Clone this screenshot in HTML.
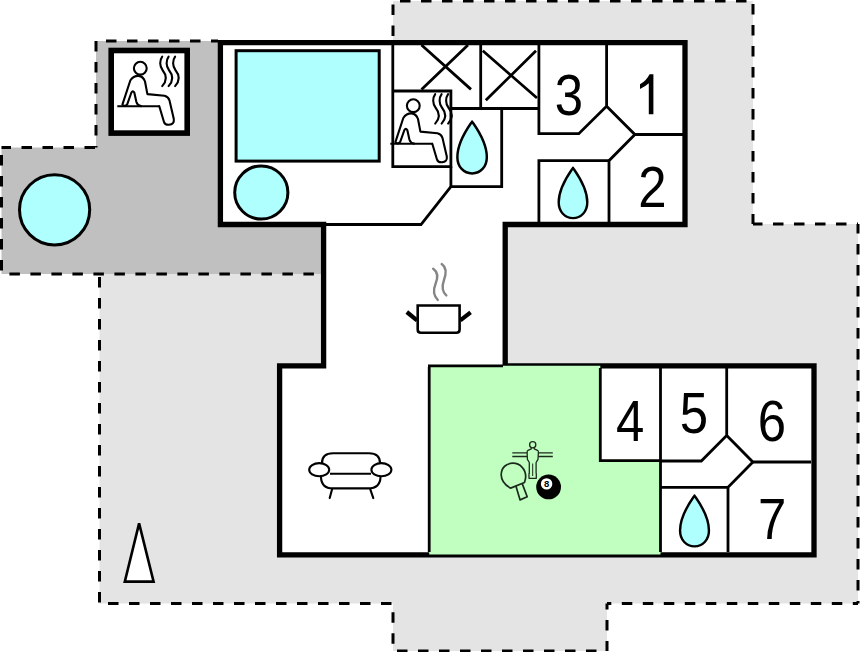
<!DOCTYPE html>
<html><head><meta charset="utf-8">
<style>
html,body{margin:0;padding:0;background:#fff;width:860px;height:652px;overflow:hidden}
svg{display:block}
text{font-family:"Liberation Sans",sans-serif}
</style></head>
<body>
<svg width="860" height="652" viewBox="0 0 860 652">
<defs>
<g id="sauna" fill="none" stroke="#000" stroke-width="2.1" stroke-linecap="round" stroke-linejoin="round">
  <circle cx="140.3" cy="68.2" r="6.4"/>
  <path d="M141,106.1 Q137.5,105.6 136.4,102 L134.3,92.5 Q132.8,90.3 131.4,92.5 L127.2,104.3 Q124.8,107.3 122.4,104.6 L130.3,80.5 Q133.5,75.7 138.5,75.9 Q143.2,76.3 145,81.5 L147.4,94.1 L164.5,95.8 Q168.5,96.8 169.5,100.5 L173.8,119 Q174.5,124.5 169,124.8 Q164.8,125 163.9,121.7 L159.3,106.2"/>
    <path d="M117.3,106.2 L159.9,106.2" stroke-linecap="butt"/>
  <path d="M162.2,56.7 C159.5,60.5 159.5,66 162.5,70 C166.5,75 167,81 162.2,86.1"/>
  <path d="M168.6,56.7 C165.9,60.5 165.9,66 168.9,70 C172.9,75 173.4,81 168.6,86.1"/>
  <path d="M175.1,56.7 C172.4,60.5 172.4,66 175.4,70 C179.4,75 179.9,81 175.1,86.1"/>
</g>
<path id="drop" d="M0,0 C-3,4.5 -14.3,19 -14.3,34.5 C-14.3,44 -8,50.3 0,50.3 C8,50.3 14.3,44 14.3,34.5 C14.3,19 3,4.5 0,0 Z" fill="#b0ffff" stroke="#000" stroke-width="2.4" stroke-linejoin="round"/>
</defs>

<!-- lot light gray -->
<polygon fill="#e4e4e4" points="393,1 753,1 753,224 858,224 858,603.5 607,603.5 607,651 393,651 393,603.5 99.5,603.5 99.5,274 220,274 220,42 393,42"/>
<!-- terrace dark gray -->
<polygon fill="#c0c0c0" points="96,41 221,41 221,224 323,224 323,274 1.5,274 1.5,147.5 96,147.5"/>

<!-- dashed boundaries -->
<g fill="none" stroke="#000" stroke-width="3" stroke-dasharray="10.5 10.5">
  <path d="M393,1 L393,40" stroke-dashoffset="17.4"/>
  <path d="M393,1 L753,1" stroke-dashoffset="14"/>
  <path d="M753,1 L753,224" stroke-dashoffset="17.9"/>
  <path d="M753,224 L858,224" stroke-dashoffset="1"/>
  <path d="M858,224 L858,603.5" stroke-dashoffset="1"/>
  <path d="M607,603.5 L858,603.5" stroke-dashoffset="6.2"/>
  <path d="M607,603.5 L607,651" stroke-dashoffset="4.5"/>
  <path d="M393,651 L607,651" stroke-dashoffset="17"/>
  <path d="M393,603.5 L393,651" stroke-dashoffset="12.2"/>
  <path d="M99.5,603.5 L393,603.5" stroke-dashoffset="12.5"/>
  <path d="M99.5,274 L99.5,603.5" stroke-dashoffset="18"/>
  <path d="M96,41 L218,41" stroke-dashoffset="11"/>
  <path d="M96,41 L96,147.5" stroke-dashoffset="0"/>
  <path d="M96,147.5 L1.5,147.5" stroke-dashoffset="20"/>
  <path d="M1.5,147.5 L1.5,274" stroke-dashoffset="13.5"/>
  <path d="M1.5,274 L321,274" stroke-dashoffset="13.1"/>
</g>

<!-- big sauna box -->
<rect x="111.2" y="50.5" width="76" height="82.6" fill="#fff" stroke="#000" stroke-width="5.6"/>
<use href="#sauna"/>

<!-- terrace circle -->
<circle cx="54.6" cy="209.8" r="35.1" fill="#b0ffff" stroke="#000" stroke-width="3"/>

<!-- building -->
<polygon fill="#fff" stroke="#000" stroke-width="5.3" stroke-linejoin="miter"
 points="220.4,42.7 685,42.7 685,224.5 505.2,224.5 505.2,365.8 814,365.8 814,554.8 279.6,554.8 279.6,365.8 323.6,365.8 323.6,224.5 220.4,224.5"/>

<!-- green game room -->
<path d="M429.2,554.5 L429.2,365.8 L600.3,365.8 L600.3,460.7 L660.5,460.7 L660.5,554.5 Z" fill="#c0ffc0"/>

<!-- pool & hot tub -->
<rect x="236.1" y="50.7" width="143.1" height="110.4" fill="#b0ffff" stroke="#000" stroke-width="3"/>
<circle cx="261.3" cy="192.5" r="26.6" fill="#b0ffff" stroke="#000" stroke-width="3"/>

<!-- interior thin walls -->
<g fill="none" stroke="#000" stroke-width="2.8" stroke-linejoin="miter">
  <!-- upper left -->
  <path d="M392.8,45 L392.8,166.6 L450.9,166.6 L450.9,91 L392.8,91"/>
  <path d="M480.7,45 L480.7,108.5"/>
  <path d="M450.9,108.5 L538.9,108.5"/>
  <path d="M450.9,166.6 L450.9,186.6 L501.7,186.6 L501.7,108.5"/>
  <path d="M450.9,186.6 L421,224.5 L326,224.5"/>
  <!-- X boxes -->
  <path d="M421.5,45 L471,89.4 M468,45 L421.5,89.4"/>
  <path d="M482.8,50.8 L537,98 M536,50.8 L485.8,100.2"/>
  <!-- rooms 1,2,3 -->
  <path d="M538.9,45 L538.9,133.7 L578.8,133.7 L606.6,106.2 L606.6,45"/>
  <path d="M606.6,106.2 L634.9,134.5 L683,134.5"/>
  <path d="M634.9,134.5 L609,160.7 L609,222"/>
  <path d="M538.9,222 L538.9,160.7 L609,160.7"/>
  <!-- lower block -->
  <path d="M429.2,367 L429.2,552"/>
  <path d="M428,365.8 L503,365.8"/>
  <path d="M600.3,368 L600.3,460.7 L660.5,460.7"/>
  <path d="M660.5,368 L660.5,552"/>
  <path d="M660.5,461 L701.3,461 L726.7,435.5 L726.7,368"/>
  <path d="M726.7,435.5 L752.9,462 L811,462"/>
  <path d="M752.9,462 L728,487.3 L728,552"/>
  <path d="M660.5,487.3 L728,487.3"/>
</g>

<use href="#sauna" transform="translate(273,37.5)"/>
<!-- drops -->
<use href="#drop" transform="translate(472.1,121.6) scale(1.03)"/>
<use href="#drop" transform="translate(573,167.8)"/>
<use href="#drop" transform="translate(694.5,495.6) scale(1.01)"/>

<!-- numbers -->
<g font-size="57.5" fill="#000" text-anchor="middle">
  <text transform="translate(568.8,115) scale(0.885,1)">3</text>
  <text transform="translate(652.5,207) scale(0.885,1)">2</text>
  <text transform="translate(630.2,441) scale(0.885,1)">4</text>
  <text transform="translate(693.8,432.8) scale(0.885,1)">5</text>
  <text transform="translate(772,440.6) scale(0.885,1)">6</text>
  <text transform="translate(772.2,538.8) scale(0.885,1)">7</text>
</g>
<path d="M648.8,114.3 L653.4,114.3 L653.4,74.2 L649.6,74.2 Q646.5,80.5 640,84.3 L640,88.9 Q645.3,86.6 648.8,83.3 Z" fill="#000"/>

<!-- pot -->
<g fill="none" stroke="#000">
  <path d="M417.7,305.5 L459.6,305.5 L459.6,329.5 Q459.6,332.8 456.3,332.8 L421,332.8 Q417.7,332.8 417.7,329.5 Z" stroke-width="2.6"/>
  <path d="M406.8,312 L417,320.3" stroke-width="4.2"/>
  <path d="M460.3,320.3 L470.6,312.4" stroke-width="4.2"/>
  <path d="M433.2,268.7 C438,272 438,278 435.5,284 C433,290 434,296 437.8,300" stroke="#858585" stroke-width="2.4" stroke-linecap="round"/>
  <path d="M441.7,264.1 C446,267 446.5,273 444,280 C441.5,287 442.5,292 446.3,295.4" stroke="#858585" stroke-width="2.4" stroke-linecap="round"/>
</g>

<!-- sofa -->
<g fill="none" stroke="#000" stroke-width="2.1">
  <path d="M322,463 L322,463 Q322,453.2 333,453.2 L369,453.2 Q380,453.2 380,463"/>
  <path d="M330,473.8 L371,473.8"/>
  <path d="M321,476.5 Q321,488.4 333,488.4 L368,488.4 Q380.5,488.4 380.5,476.5"/>
  <ellipse cx="319.2" cy="469.7" rx="10" ry="6.6"/>
  <ellipse cx="381.4" cy="469.7" rx="10" ry="6.6"/>
  <path d="M332,489.4 L329.7,498.1 M370.3,489.4 L373.3,498.1" stroke-linecap="round"/>
</g>

<!-- game icons -->
<g fill="none" stroke="#1c2a1c" stroke-width="1.3" stroke-linejoin="round">
  <path d="M512.3,452.9 L527.2,452.9 M538.3,452.9 L552.8,452.9 M512.3,456.5 L527.2,456.5 M538.3,456.5 L552.8,456.5" stroke-width="1.4"/>
  <circle cx="532.7" cy="444.8" r="3.1"/>
  <path d="M531.3,447.8 L531.3,448.8 L528,450.3 Q527.1,450.8 527.1,452 L527.4,459.3 L529.3,462.5 L529.3,473.4 L529,473.6 L529,478.3 L536.3,478.3 L536.3,473.6 L536.1,473.4 L536.1,462.5 L538,459.3 L538.4,452 Q538.4,450.8 537.5,450.3 L534.2,448.8 L534.2,447.8"/>
  <path d="M532.7,463.5 L532.7,476" stroke-width="1"/>
  <path d="M510.6,488.1 C504,485 501,479 501.2,474.2 C501.5,467 507,463.2 513,463.2 C520,463.2 525.7,469 525.7,476.6 C525.7,479 525,481 524.5,482.5 Z" stroke-width="1.7"/>
  <path d="M515.9,486 L520.1,499.9 L527.2,496.8 L522.2,483.6" stroke-width="1.7"/>
</g>
<circle cx="548.6" cy="486.9" r="12.4" fill="#000"/>
<circle cx="546.6" cy="483.9" r="5.7" fill="#fff"/>
<text transform="translate(546.7,486.8) scale(1,1.05)" font-size="9.5" font-weight="bold" text-anchor="middle" fill="#000">8</text>

<!-- north arrow -->
<polygon points="139.1,523.4 124.8,581.6 153.6,581.6" fill="#fff" stroke="#000" stroke-width="2.6" stroke-linejoin="miter"/>
</svg>
</body></html>
